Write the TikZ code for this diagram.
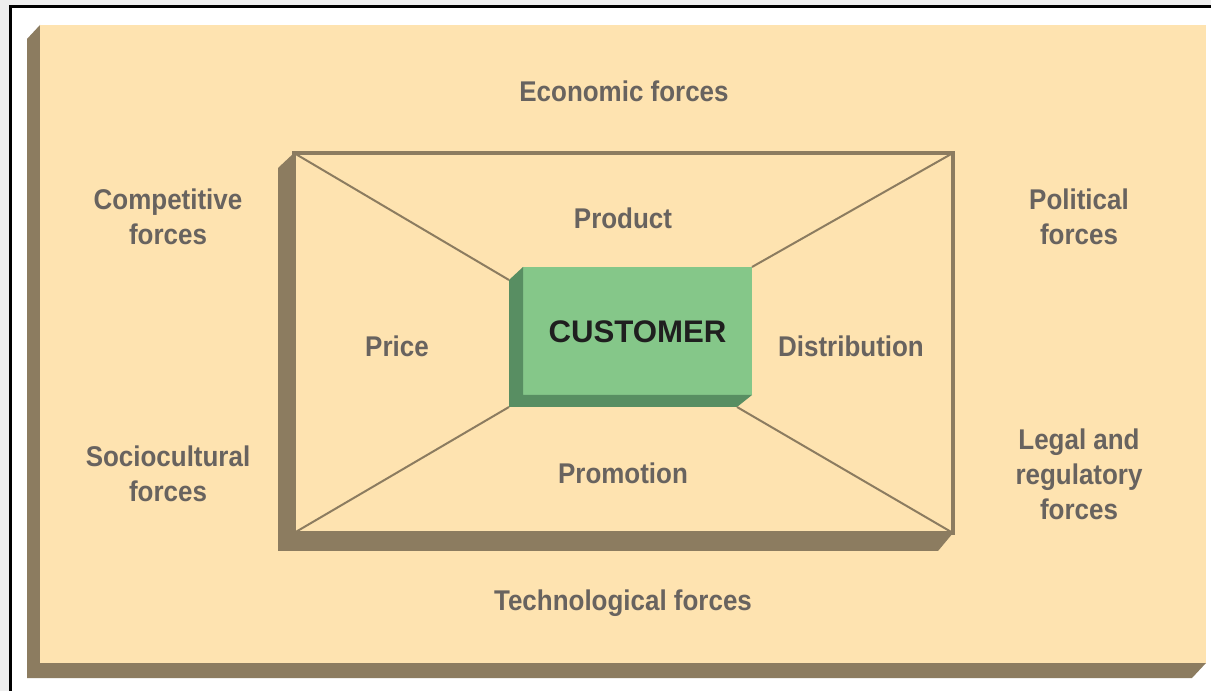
\documentclass[tikz,border=0pt]{standalone}
\usepackage{fontspec}
\setmainfont{Liberation Sans}
\newfontfamily\forcefont[FakeStretch=0.91]{Liberation Sans}
\usetikzlibrary{calc}
\definecolor{paper}{RGB}{254,227,176}
\definecolor{bevel}{RGB}{140,124,96}
\definecolor{leaf}{RGB}{133,199,137}
\definecolor{leafdark}{RGB}{88,142,98}
\definecolor{ink}{RGB}{104,99,95}
\definecolor{margin}{RGB}{238,238,238}

\begin{document}
\begin{tikzpicture}[x=0.75pt,y=-0.75pt,
  lbl/.style={text=ink, font=\forcefont\bfseries\fontsize{21.4}{26.6}\selectfont,
    align=center, anchor=base, inner sep=0pt},
  mixframe/.style={draw=bevel, line width=2.3pt, fill=paper, outer sep=0pt,
    minimum width=494.25pt, minimum height=285pt, inner sep=0pt},
  custbox/.style={fill=leaf, outer sep=0pt, inner sep=0pt,
    minimum width=171.75pt, minimum height=96pt,
    font=\bfseries\fontsize{23.4}{28}\selectfont, text={black!88},
    text height=16.7pt, text depth=0pt},
  spoke/.style={draw=bevel, line width=1.5pt}
]
\useasboundingbox (0,0) rectangle (1211,691);
% page margin and frame rule
\fill[margin] (0,0) rectangle (1211,691);
\fill[white] (10,6) rectangle (1211,691);
\draw[black, line width=1.9pt] (10.5,691) -- (10.5,6.5) -- (1211,6.5);

% outer panel with its bevelled shadow
\fill[bevel] (27,39) -- (40,25) -- (40,663) -- (1206,663) -- (1192,678) -- (27,678) -- cycle;
\fill[paper] (40,25) rectangle (1206,663);

% marketing-mix frame
\fill[bevel] (278,168) -- (294,153) -- (294,533) -- (953,533) -- (938,551) -- (278,551) -- cycle;
\node[mixframe] (mix) at (623.5,343) {};

% customer block and its bevelled shadow
\node[custbox] (cust) at (637.5,331) {CUSTOMER};
\coordinate (cnw) at ($(cust.north west)+(-14,13)$);
\coordinate (csw) at ($(cust.south west)+(-14,12)$);
\coordinate (cse) at ($(cust.south east)+(-15,12)$);
\fill[leafdark] (cnw) -- (cust.north west) -- (cust.south west) -- (cust.south east) -- (cse) -- (csw) -- cycle;

% spokes from frame corners to the customer block
\draw[spoke] (mix.north west) -- (cnw);
\draw[spoke] (mix.north east) -- (cust.north east);
\draw[spoke] (mix.south west) -- (csw);
\draw[spoke] (mix.south east) -- (cse);

% labels (anchor = baseline of the last line)
\node[lbl] (econ)  at (624,102)  {Economic forces};
\node[lbl] (comp)  at (168,245)  {Competitive\\forces};
\node[lbl] (poli)  at (1079,245) {Political\\forces};
\node[lbl] (prod)  at (623,229)  {Product};
\node[lbl] (price) at (397,357)  {Price};
\node[lbl] (dist)  at (851,357)  {Distribution};
\node[lbl] (soc)   at (168,502)  {Sociocultural\\forces};
\node[lbl] (promo) at (623,484)  {Promotion};
\node[lbl] (legal) at (1079,520) {Legal and\\regulatory\\forces};
\node[lbl] (tech)  at (623,610)  {Technological forces};
\end{tikzpicture}
\end{document}
